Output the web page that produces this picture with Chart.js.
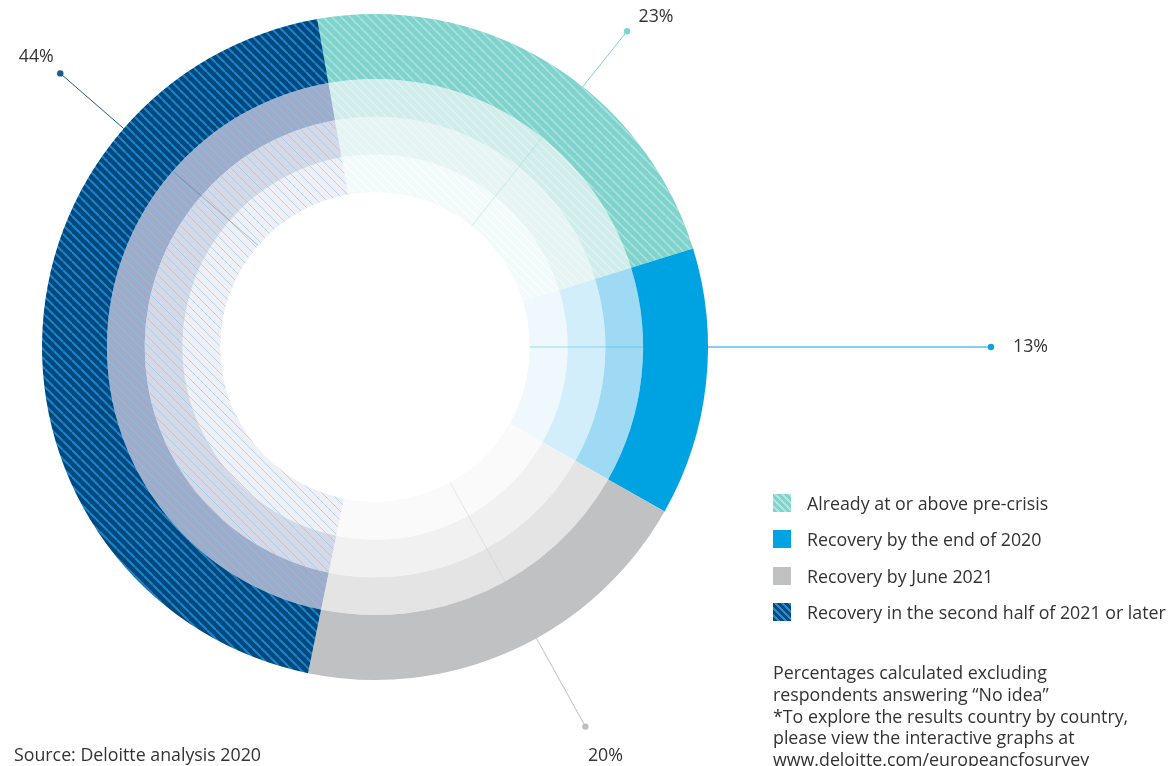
<!DOCTYPE html>
<html>
<head>
<meta charset="utf-8">
<script src="https://cdn.jsdelivr.net/npm/chart.js@4.4.0/dist/chart.umd.min.js"></script>
<style>
body { margin: 0; background: #fff; font-family: "Open Sans", sans-serif; color: #333; }
#wrap { position: relative; width: 1174px; height: 766px; overflow: hidden; }
#wrap canvas { position: absolute; left: 0; top: 0; }
.legend { position: absolute; left: 773px; top: 485px; font-size: 17.8px; }
.legend div { height: 36.3px; line-height: 36px; position: relative; padding-left: 34px; white-space: nowrap; }
.legend span { position: absolute; left: 0; top: 9px; width: 18px; height: 18px; }
.note { position: absolute; left: 773px; top: 662px; font-size: 17.8px; line-height: 21.8px; white-space: nowrap; }
.source { position: absolute; left: 14px; top: 744px; font-size: 17.8px; line-height: 20px; white-space: nowrap; }
</style>
</head>
<body>
<div id="wrap">
  <canvas id="myChart" width="1174" height="766"></canvas>
  <div class="legend" id="legend"></div>
  <div class="note">Percentages calculated excluding<br>respondents answering “No idea”<br>*To explore the results country by country,<br>please view the interactive graphs at<br>www.deloitte.com/europeancfosurvey</div>
  <div class="source">Source: Deloitte analysis 2020</div>
</div>
<script>
// data
var categories = ['Already at or above pre-crisis', 'Recovery by the end of 2020', 'Recovery by June 2021', 'Recovery in the second half of 2021 or later'];
var shares = [23, 13, 20, 44];
var pctLabels = ['23%', '13%', '20%', '44%'];

// where the leader line for each slice points (degrees from top) and how far out the dot sits
var leaderAngle = [38.6, 90, 151, 311];
var leaderDot = [404, 616, 434, 417];
var textOffset = [[29, -14, 'center'], [22, 0, 'left'], [20, 29, 'center'], [-24, -16, 'center']];

var lineColors = ['#7fd3cc', '#0aa3e0', '#bdbec0', '#1d5a92'];

function hatch(bg, line, w) {
  var s = 9;
  var c = document.createElement('canvas');
  c.width = c.height = s;
  var g = c.getContext('2d');
  g.fillStyle = bg;
  g.fillRect(0, 0, s, s);
  g.strokeStyle = line;
  g.lineWidth = w;
  g.beginPath();
  for (var k = -1; k <= 1; k++) {
    g.moveTo(0, k * s);
    g.lineTo(s, (k + 1) * s);
  }
  g.stroke();
  return g.createPattern(c, 'repeat');
}

// outer ring to inner ring
var rings = [
  [hatch('#80d3cc', '#a8e2dd', 1.6), '#00a3e2', '#c0c1c3', hatch('#00497d', '#1c84cc', 2)],
  [hatch('#d0edeb', '#e4f5f3', 1.2), '#9fdaf5', '#e4e4e5', hatch('#a0abc8', '#8ebbe2', 1.2)],
  [hatch('#e6f5f4', '#f2faf9', 1), '#d3eefb', '#f1f1f2', hatch('#d5d9e6', '#a9cbea', 1)],
  [hatch('#f3fafa', '#ffffff', 1), '#eff8fd', '#fafafa', hatch('#eef0f6', '#b7d3ee', 1)]
];
var ringWeight = [1.72, 1, 1, 1];

var legendEl = document.getElementById('legend');
var swatch = [
  'background:repeating-linear-gradient(45deg,#80d3cc 0 3px,#b2e5e0 3px 5px)',
  'background:#00a3e2',
  'background:#c0c1c3',
  'background:repeating-linear-gradient(45deg,#00497d 0 3px,#2a8ad0 3px 5px)'
];
categories.forEach(function (c, i) {
  legendEl.innerHTML += '<div><span style="' + swatch[i] + '"></span>' + c + '</div>';
});

var leaders = {
  id: 'leaders',
  afterDatasetsDraw: function (chart) {
    var ctx = chart.ctx;
    var outer = chart.getDatasetMeta(0).data;
    var inner = chart.getDatasetMeta(rings.length - 1).data;
    outer.forEach(function (arc, i) {
      var cx = arc.x, cy = arc.y;
      var a = leaderAngle[i] * Math.PI / 180 - Math.PI / 2;
      var r0 = inner[i].innerRadius, r1 = arc.outerRadius, r2 = leaderDot[i];
      var cos = Math.cos(a), sin = Math.sin(a);
      ctx.save();
      ctx.strokeStyle = lineColors[i];
      ctx.lineWidth = 1;
      ctx.globalAlpha = 0.35;
      ctx.beginPath();
      ctx.moveTo(cx + r0 * cos, cy + r0 * sin);
      ctx.lineTo(cx + r1 * cos, cy + r1 * sin);
      ctx.stroke();
      ctx.globalAlpha = 1;
      ctx.beginPath();
      ctx.moveTo(cx + r1 * cos, cy + r1 * sin);
      ctx.lineTo(cx + r2 * cos, cy + r2 * sin);
      ctx.stroke();
      var dx = cx + r2 * cos, dy = cy + r2 * sin;
      ctx.fillStyle = lineColors[i];
      ctx.beginPath();
      ctx.arc(dx, dy, 3.2, 0, Math.PI * 2);
      ctx.fill();
      ctx.fillStyle = '#333';
      ctx.font = '17.8px "Open Sans"';
      ctx.textAlign = textOffset[i][2];
      ctx.textBaseline = 'middle';
      ctx.fillText(pctLabels[i], dx + textOffset[i][0], dy + textOffset[i][1]);
      ctx.restore();
    });
  }
};

var ctx = document.getElementById('myChart').getContext('2d');
var chart = new Chart(ctx, {
  type: 'doughnut',
  data: {
    labels: categories,
    datasets: rings.map(function (colors, r) {
      return {
        data: shares,
        backgroundColor: colors,
        borderWidth: 0,
        hoverOffset: 0,
        weight: ringWeight[r]
      };
    })
  },
  options: {
    responsive: false,
    animation: false,
    rotation: -10,
    cutout: '46.5%',
    layout: { padding: { left: 42, right: 466, top: 14, bottom: 86 } },
    plugins: { legend: { display: false }, tooltip: { enabled: false } }
  },
  plugins: [leaders]
});
</script>
</body>
</html>
